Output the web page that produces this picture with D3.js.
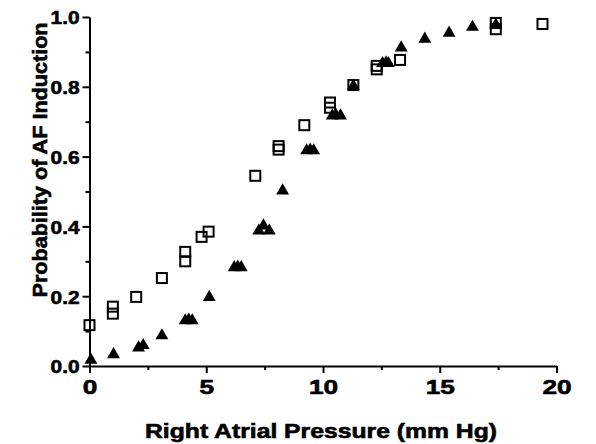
<!DOCTYPE html>
<html>
<head>
<meta charset="utf-8">
<script src="https://cdn.jsdelivr.net/npm/d3@7"></script>
<style>
  body { margin: 0; background: #fff; }
  svg text { font-family: 'Liberation Sans', Arial, sans-serif; font-weight: bold; fill: #000; stroke: #000; stroke-width: 0.6px; }
</style>
</head>
<body>
<svg width="596" height="444"></svg>
<script>
// open squares
var squareX = [0, 1, 1, 2, 3.1, 4.1, 4.1, 4.8, 5.1, 7.1, 8.1, 8.1, 9.2, 10.3, 10.3, 11.3, 12.3, 12.3, 13.3, 17.4, 17.4, 19.4]
var squareY = [0.117, 0.15, 0.17, 0.198, 0.252, 0.30, 0.327, 0.37, 0.385, 0.545, 0.62, 0.63, 0.69, 0.74, 0.755, 0.805, 0.85, 0.86, 0.877, 0.965, 0.983, 0.98]

// filled triangles
var triX = [0.06, 1.03, 2.1, 2.3, 3.1, 4.1, 4.25, 4.4, 5.13, 6.2, 6.35, 6.5, 7.25, 7.45, 7.7, 8.27, 9.3, 9.45, 9.6, 10.4, 10.55, 10.75, 11.3, 12.55, 12.7, 12.8, 13.35, 14.36, 15.4, 16.4, 17.4]
var triY = [0.02, 0.036, 0.055, 0.062, 0.09, 0.133, 0.135, 0.133, 0.2, 0.285, 0.287, 0.285, 0.39, 0.405, 0.39, 0.505, 0.62, 0.622, 0.62, 0.72, 0.722, 0.72, 0.805, 0.87, 0.872, 0.87, 0.915, 0.94, 0.957, 0.974, 0.98]

var xMajor = [0, 5, 10, 15, 20]
var xMinor = [2.5, 7.5, 12.5, 17.5]
var yMajor = [0, 0.2, 0.4, 0.6, 0.8, 1.0]
var yMinor = [0.1, 0.3, 0.5, 0.7, 0.9]

var svg = d3.select('svg')

var x = d3.scaleLinear().domain([0, 20]).range([89.5, 556.5])
var y = d3.scaleLinear().domain([0, 1]).range([366, 17])

// axes
var xAxis = svg.append('g')
    .attr('transform', 'translate(0,' + y(0) + ')')
    .call(d3.axisBottom(x).tickValues(xMajor).tickSize(7).tickSizeOuter(0).tickPadding(6).tickFormat(d3.format('d')))
svg.append('g')
    .attr('transform', 'translate(0,' + y(0) + ')')
    .call(d3.axisBottom(x).tickValues(xMinor).tickSize(4).tickSizeOuter(0).tickFormat(''))
    .select('.domain').remove()

var yAxis = svg.append('g')
    .attr('transform', 'translate(' + x(0) + ',0)')
    .call(d3.axisLeft(y).tickValues(yMajor).tickSize(7).tickSizeOuter(0).tickPadding(3).tickFormat(d3.format('.1f')))
svg.append('g')
    .attr('transform', 'translate(' + x(0) + ',0)')
    .call(d3.axisLeft(y).tickValues(yMinor).tickSize(4).tickSizeOuter(0).tickFormat(''))
    .select('.domain').remove()

svg.selectAll('.domain, .tick line')
    .attr('stroke', '#000')
    .attr('stroke-width', 2)

xAxis.selectAll('text')
    .attr('font-size', 21)
    .attr('transform', 'scale(1.25,1)')
yAxis.selectAll('text')
    .attr('font-size', 19)
    .attr('dy', '0.36em')
    .attr('x', -9)
    .attr('transform', 'scale(1.1,1)')

// titles
svg.append('text')
    .attr('x', 321)
    .attr('y', 438)
    .attr('text-anchor', 'middle')
    .attr('font-size', 20)
    .attr('textLength', 352)
    .attr('lengthAdjust', 'spacingAndGlyphs')
    .text('Right Atrial Pressure (mm Hg)')

svg.append('text')
    .attr('transform', 'translate(47,160) rotate(-90)')
    .attr('text-anchor', 'middle')
    .attr('font-size', 20)
    .attr('textLength', 275)
    .attr('lengthAdjust', 'spacingAndGlyphs')
    .text('Probability of AF Induction')

// markers
var tri = d3.symbol().type(d3.symbolTriangle).size(72)
svg.append('g')
  .selectAll('path')
  .data(triX.map((v, i) => [v, triY[i]]))
  .enter().append('path')
    .attr('d', tri)
    .attr('transform', d => 'translate(' + x(d[0]) + ',' + (y(d[1]) + 1) + ')')
    .attr('fill', '#000')

svg.append('g')
  .selectAll('rect')
  .data(squareX.map((v, i) => [v, squareY[i]]))
  .enter().append('rect')
    .attr('x', d => x(d[0]) - 5)
    .attr('y', d => y(d[1]) - 5)
    .attr('width', 10)
    .attr('height', 10)
    .attr('fill', 'none')
    .attr('stroke', '#000')
    .attr('stroke-width', 2)
</script>
</body>
</html>
